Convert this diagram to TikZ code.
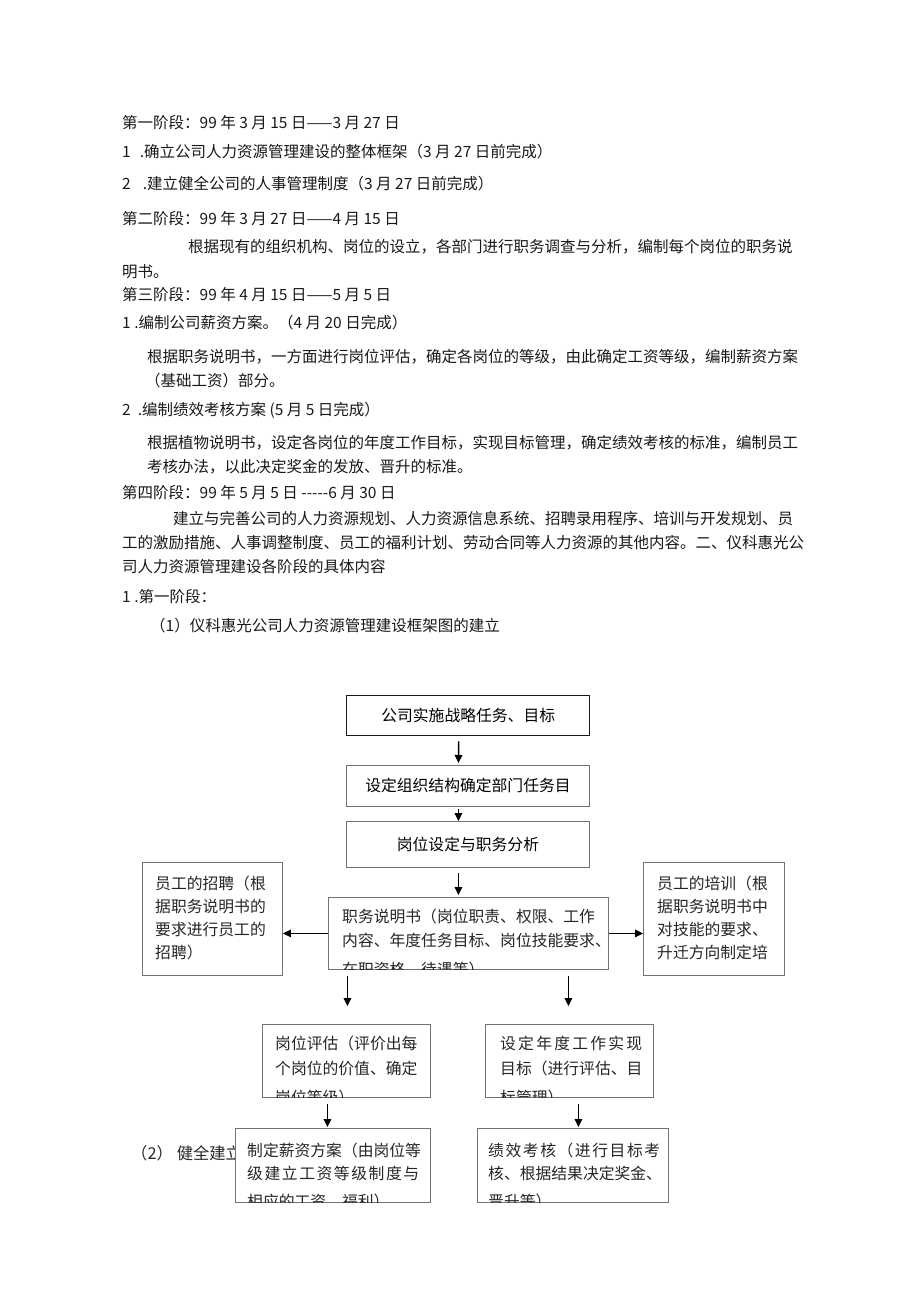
\documentclass[tikz,border=0pt]{standalone}
\usepackage{fontspec}
\setmainfont{Noto Sans CJK SC}
\usetikzlibrary{arrows.meta}
\begin{document}
\begin{tikzpicture}[x=1pt,y=-1pt,
  txt/.style={anchor=base west, inner sep=0pt, font=\fontsize{15.5}{18}\selectfont, text=black!90},
  bt/.style={anchor=base west, inner sep=0pt, font=\fontsize{15.8}{20}\selectfont, text=black!85},
  box/.style={draw=black!55, line width=0.9pt, fill=white, inner sep=0pt, anchor=north west},
  arr/.style={-{Triangle[length=8pt,width=7.5pt]}, line width=1.5pt, black}
]
\fill[white] (0,0) rectangle (920,1301);
\useasboundingbox (0,0) rectangle (920,1301);

% ---------- top text ----------
\node[txt] (t1) at (122,128) {第一阶段：99 年 3 月 15 日——3 月 27 日};
\node[txt] (t2) at (122,157) {1\hspace{9pt}.确立公司人力资源管理建设的整体框架（3 月 27 日前完成）};
\node[txt] (t3) at (122,189) {2\hspace{12pt}.建立健全公司的人事管理制度（3 月 27 日前完成）};
\node[txt] (t4) at (122,224) {第二阶段：99 年 3 月 27 日——4 月 15 日};
\node[txt] (t5) at (188,252) {根据现有的组织机构、岗位的设立，各部门进行职务调查与分析，编制每个岗位的职务说};
\node[txt] (t6) at (122,277) {明书。};
\node[txt] (t7) at (122,300) {第三阶段：99 年 4 月 15 日——5 月 5 日};
\node[txt] (t8) at (122,328) {1 .编制公司薪资方案。（4 月 20 日完成）};
\node[txt] (t9) at (147,362) {根据职务说明书，一方面进行岗位评估，确定各岗位的等级，由此确定工资等级，编制薪资方案};
\node[txt] (t10) at (145,386) {（基础工资）部分。};
\node[txt] (t11) at (122,415) {2\hspace{7pt}.编制绩效考核方案 (5 月 5 日完成）};
\node[txt] (t12) at (147,448) {根据植物说明书，设定各岗位的年度工作目标，实现目标管理，确定绩效考核的标准，编制员工};
\node[txt] (t13) at (147,472) {考核办法，以此决定奖金的发放、晋升的标准。};
\node[txt] (t14) at (122,498) {第四阶段：99 年 5 月 5 日 {-}{-}{-}{-}{-}6 月 30 日};
\node[txt] (t15) at (173,524) {建立与完善公司的人力资源规划、人力资源信息系统、招聘录用程序、培训与开发规划、员};
\node[txt] (t16) at (122,548) {工的激励措施、人事调整制度、员工的福利计划、劳动合同等人力资源的其他内容。二、仪科惠光公};
\node[txt] (t17) at (122,572) {司人力资源管理建设各阶段的具体内容};
\node[txt] (t18) at (122,602) {1 .第一阶段：};
\node[txt] (t19) at (150,631) {（1）仪科惠光公司人力资源管理建设框架图的建立};

% text partly hidden behind box b7
\node[bt, font=\fontsize{16.3}{20}\selectfont] (t20) at (131,1159) {（2）\hspace{4pt}健全建立};

% ---------- flowchart boxes ----------
\node[box, draw=black!90, line width=1.4pt, minimum width=243pt, minimum height=40pt,
      font=\fontsize{15.8}{20}\selectfont] (b1) at (346,695) {公司实施战略任务、目标};
\node[box, minimum width=243pt, minimum height=41pt,
      font=\fontsize{15.8}{20}\selectfont] (b2) at (346,765) {设定组织结构确定部门任务目};
\node[box, minimum width=243pt, minimum height=46pt,
      font=\fontsize{15.8}{20}\selectfont] (b3) at (346,821) {岗位设定与职务分析};

\node[box, minimum width=280pt, minimum height=72pt] (b4) at (328,897) {};
\node[box, minimum width=140pt, minimum height=113pt] (bl) at (142,862) {};
\node[box, minimum width=141pt, minimum height=113pt] (br) at (643,862) {};
\node[box, minimum width=168pt, minimum height=73pt] (b5) at (262,1024) {};
\node[box, minimum width=168pt, minimum height=73pt] (b6) at (485,1024) {};
\node[box, minimum width=195pt, minimum height=74pt] (b7) at (235,1128) {};
\node[box, minimum width=191pt, minimum height=74pt] (b8) at (477,1128) {};

% box texts (clipped at the box edges)
\begin{scope}
  \clip (b4.south west) rectangle (b4.north east);
  \node[bt] (b4a) at (342,922) {职务说明书（岗位职责、权限、工作};
  \node[bt] (b4b) at (342,946.5) {内容、年度任务目标、岗位技能要求、};
  \node[bt] (b4c) at (342,975) {在职资格、待遇等）};
\end{scope}
\node[bt] (bla) at (155,889) {员工的招聘（根};
\node[bt] (blb) at (155,912) {据职务说明书的};
\node[bt] (blc) at (155,935) {要求进行员工的};
\node[bt] (bld) at (155,958) {招聘）};
\node[bt] (bra) at (657,889) {员工的培训（根};
\node[bt] (brb) at (657,912) {据职务说明书中};
\node[bt] (brc) at (657,935) {对技能的要求、};
\node[bt] (brd) at (657,958) {升迁方向制定培};
\begin{scope}
  \clip (b5.south west) rectangle (b5.north east);
  \node[bt] (b5a) at (275,1049) {岗位评估（评价出每};
  \node[bt] (b5b) at (275,1074) {个岗位的价值、确定};
  \node[bt] (b5c) at (275,1103) {岗位等级）};
\end{scope}
\begin{scope}
  \clip (b6.south west) rectangle (b6.north east);
  \node[bt] (b6a) at (500,1049) {\makebox[142pt][l]{设\hfill 定\hfill 年\hfill 度\hfill 工\hfill 作\hfill 实\hfill 现}};
  \node[bt] (b6b) at (500,1074) {目标（进行评估、目};
  \node[bt] (b6c) at (500,1103) {标管理）};
\end{scope}
\begin{scope}
  \clip (b7.south west) rectangle (b7.north east);
  \node[bt] (b7a) at (247,1156) {制定薪资方案（由岗位等};
  \node[bt] (b7b) at (247,1179.5) {\makebox[172pt][l]{级\hfill 建\hfill 立\hfill 工\hfill 资\hfill 等\hfill 级\hfill 制\hfill 度\hfill 与}};
  \node[bt] (b7c) at (247,1207) {相应的工资、福利）};
\end{scope}
\begin{scope}
  \clip (b8.south west) rectangle (b8.north east);
  \node[bt] (b8a) at (488,1156) {\makebox[172pt][l]{绩\hfill 效\hfill 考\hfill 核\hfill （\hfill 进\hfill 行\hfill 目\hfill 标\hfill 考}};
  \node[bt] (b8b) at (488,1179.5) {核、根据结果决定奖金、};
  \node[bt] (b8c) at (488,1207) {晋升等）};
\end{scope}

% ---------- connectors ----------
\draw[arr, shorten <=5pt, shorten >=2pt] ([xshift=-9.5pt]b1.south) -- ([xshift=-9.5pt]b2.north);
\draw[arr, shorten <=2pt] ([xshift=-9.5pt]b2.south) -- ([xshift=-9.5pt]b3.north);
\draw[arr, shorten <=5pt, shorten >=2pt] ([xshift=-9.5pt]b3.south) -- ([xshift=-9.5pt]b3.south |- b4.north);
\draw[arr] (b4.west) -- (b4.west -| bl.east);
\draw[arr] (b4.east) -- (b4.east -| br.west);
\draw[arr, shorten <=6pt, shorten >=18pt] ([xshift=1pt]b5.north |- b4.south) -- ([xshift=1pt]b5.north);
\draw[arr, shorten <=6pt, shorten >=18pt] ([xshift=-1pt]b6.north |- b4.south) -- ([xshift=-1pt]b6.north);
\draw[arr, shorten <=6pt, shorten >=1pt] ([xshift=-19pt]b5.south) -- ([xshift=-19pt]b5.south |- b7.north);
\draw[arr, shorten <=6pt, shorten >=1pt] ([xshift=9pt]b6.south) -- ([xshift=9pt]b6.south |- b8.north);
\end{tikzpicture}
\end{document}
